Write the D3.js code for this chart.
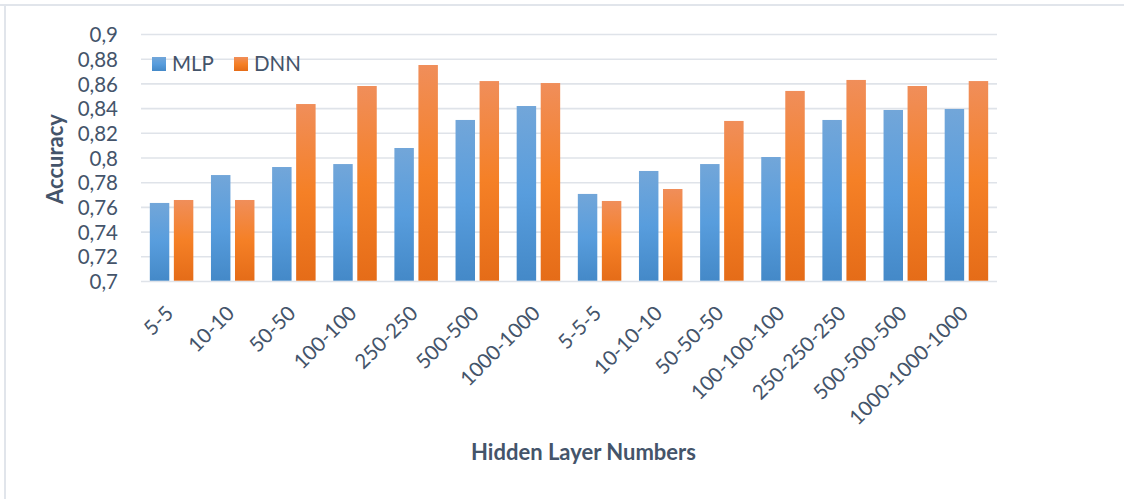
<!DOCTYPE html>
<html>
<head>
<meta charset="utf-8">
<script src="https://cdn.jsdelivr.net/npm/d3@7"></script>
<style>
  html, body { margin: 0; padding: 0; background: #ffffff; }
  svg { display: block; }
  text { font-family: Lato, "Open Sans", sans-serif; fill: #44546a; }
</style>
</head>
<body>
<script>
// Hidden layer configurations (x categories)
const categories = ["5-5", "10-10", "50-50", "100-100", "250-250", "500-500", "1000-1000",
  "5-5-5", "10-10-10", "50-50-50", "100-100-100", "250-250-250", "500-500-500", "1000-1000-1000"];
const seriesNames = ["MLP", "DNN"];
const mlpValues = [0.7636, 0.7862, 0.7927, 0.7951, 0.8081, 0.8308, 0.8421,
  0.7709, 0.7895, 0.7951, 0.8008, 0.8308, 0.8389, 0.8397];
const dnnValues = [0.7660, 0.7660, 0.8437, 0.8583, 0.8753, 0.8623, 0.8607,
  0.7652, 0.7749, 0.8300, 0.8543, 0.8632, 0.8583, 0.8623];
const yTicks = [0.7, 0.72, 0.74, 0.76, 0.78, 0.8, 0.82, 0.84, 0.86, 0.88, 0.9];
const yTickLabels = ["0,7", "0,72", "0,74", "0,76", "0,78", "0,8", "0,82", "0,84", "0,86", "0,88", "0,9"];

const W = 1124, H = 499;
const plot = { left: 141, right: 997, top: 34.5, bottom: 281.5 };

const svg = d3.select("body").append("svg").attr("width", W).attr("height", H);

// Frame edges
svg.append("line").attr("x1", 0).attr("x2", W).attr("y1", 5).attr("y2", 5)
  .attr("stroke", "#e1e5eb").attr("stroke-width", 2);
svg.append("line").attr("x1", 5).attr("x2", 5).attr("y1", 4).attr("y2", H)
  .attr("stroke", "#e1e5eb").attr("stroke-width", 2);

// Gradients for bars
const defs = svg.append("defs");
const gradients = {
  MLP: ["#72a6d9", "#589ddd", "#4489c8"],
  DNN: ["#f08e5a", "#f58026", "#e56c18"]
};
Object.entries(gradients).forEach(([name, cols]) => {
  const g = defs.append("linearGradient").attr("id", "grad-" + name)
    .attr("x1", 0).attr("x2", 0).attr("y1", 0).attr("y2", 1);
  g.append("stop").attr("offset", "0%").attr("stop-color", cols[0]);
  g.append("stop").attr("offset", "50%").attr("stop-color", cols[1]);
  g.append("stop").attr("offset", "100%").attr("stop-color", cols[2]);
});

const y = d3.scaleLinear().domain([0.7, 0.9]).range([plot.bottom, plot.top]);
const x = d3.scaleBand().domain(categories).range([plot.left, plot.right])
  .paddingInner(0.2886).paddingOuter(0.1443);
const xs = d3.scaleBand().domain(seriesNames).range([0, x.bandwidth()]).paddingInner(0.19);

// Gridlines
svg.append("g").selectAll("line").data(yTicks).join("line")
  .attr("x1", plot.left).attr("x2", plot.right)
  .attr("y1", d => y(d)).attr("y2", d => y(d))
  .attr("stroke", "#dfe3e9").attr("stroke-width", 1.6);

// Y axis labels
const yAxis = d3.axisLeft(y).tickValues(yTicks)
  .tickFormat((d, i) => yTickLabels[i]).tickSize(0).tickPadding(0);
const yg = svg.append("g").attr("transform", `translate(${plot.left - 23},0)`).call(yAxis);
yg.select(".domain").remove();
yg.selectAll("text").style("font-size", "20.5px").attr("fill", "#44546a")
  .style("font-family", "Lato, sans-serif").attr("dy", "0.35em");

// Bars
const rows = categories.map((c, i) => ({ cat: c, MLP: mlpValues[i], DNN: dnnValues[i] }));
const groups = svg.append("g").selectAll("g").data(rows).join("g")
  .attr("transform", d => `translate(${x(d.cat)},0)`);
groups.selectAll("rect").data(d => seriesNames.map(s => ({ s, v: d[s] }))).join("rect")
  .attr("x", d => xs(d.s)).attr("width", xs.bandwidth())
  .attr("y", d => y(d.v)).attr("height", d => y(0.7) - y(d.v) - 0.8)
  .attr("fill", d => `url(#grad-${d.s})`);

// X axis labels, rotated
const xAxis = d3.axisBottom(x).tickSize(0).tickPadding(0);
const xg = svg.append("g").attr("transform", `translate(0,${plot.bottom})`).call(xAxis);
xg.select(".domain").remove();
xg.selectAll("text")
  .style("font-size", "20.5px").style("font-family", "Lato, sans-serif").attr("fill", "#44546a")
  .attr("text-anchor", "end").attr("dy", null).attr("y", null)
  .attr("transform", "translate(3,33) rotate(-45)");

// Axis titles
svg.append("text").attr("transform", "translate(63,159) rotate(-90)")
  .attr("text-anchor", "middle").style("font-size", "22px").style("font-weight", "bold")
  .text("Accuracy");
svg.append("text").attr("x", 583.5).attr("y", 460)
  .attr("text-anchor", "middle").style("font-size", "22px").style("font-weight", "bold")
  .text("Hidden Layer Numbers");

// Legend
const legend = svg.append("g").attr("transform", "translate(152,57)");
const legendX = { MLP: 0, DNN: 82 };
seriesNames.forEach(s => {
  const g = legend.append("g").attr("transform", `translate(${legendX[s]},0)`);
  g.append("rect").attr("width", 14).attr("height", 14).attr("fill", `url(#grad-${s})`);
  g.append("text").attr("x", 20).attr("y", 7).attr("dy", "0.36em")
    .style("font-size", "20.5px").text(s);
});
</script>
</body>
</html>
